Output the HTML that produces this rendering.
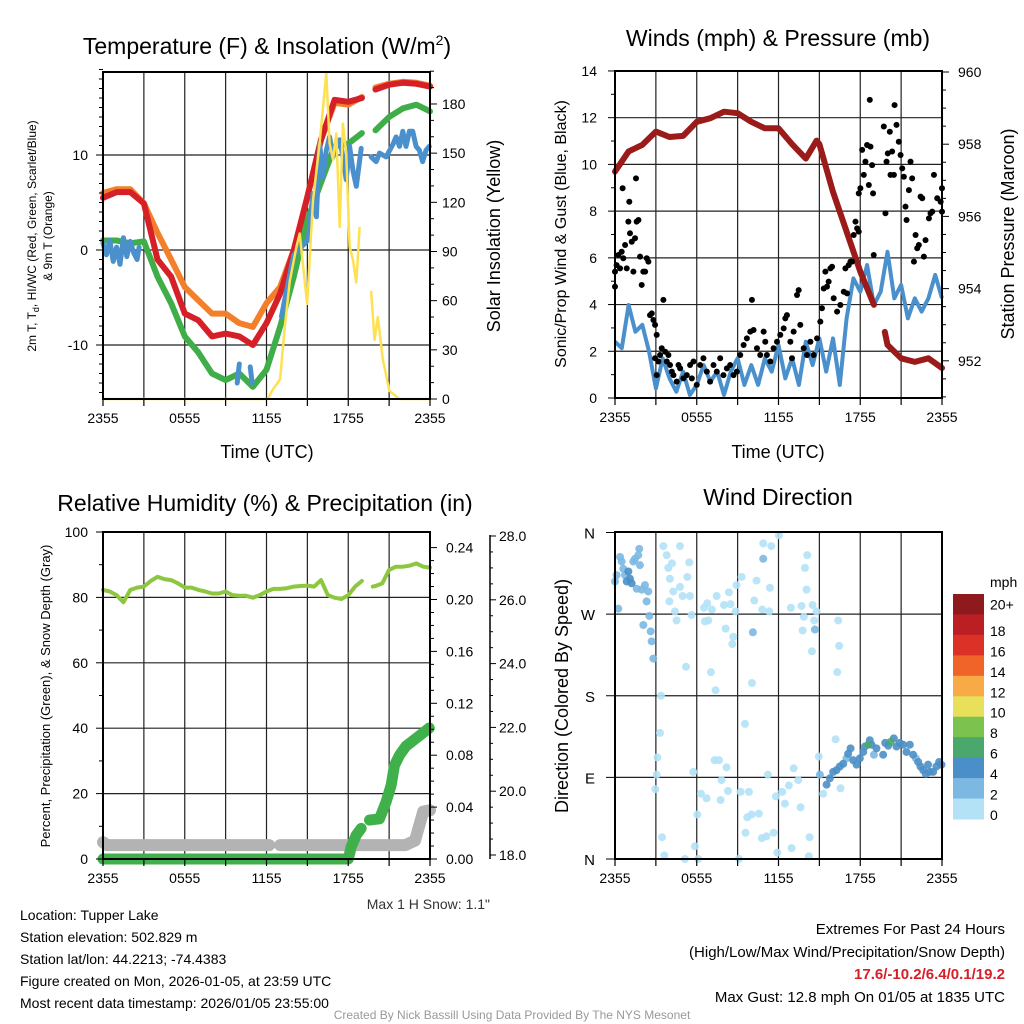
<!DOCTYPE html>
<html><head><meta charset="utf-8"><style>
html,body{margin:0;padding:0;background:#fff;}
svg{display:block;font-family:"Liberation Sans",sans-serif;}
</style></head><body>
<svg id="c" width="1024" height="1024" viewBox="0 0 1024 1024" xmlns="http://www.w3.org/2000/svg"></svg>
<script>
// ---------- Panel 1: temperature & insolation ----------
const tempHours=[0,1,2,3,4,5,6,7,8,9,10,11,12,13,14,15,16,17,18,19,19.5,20,21,22,23,24];
const tempRed=[5.5,6.1,6.1,4.9,-1.0,-2.8,-6.7,-7.4,-9.1,-8.8,-9.1,-10.0,-7.7,-4.6,0,5.6,11.6,15.8,15.6,16.0,null,16.9,17.4,17.6,17.5,17.2];
const tempOrange=[6.0,6.4,6.4,4.9,1.8,-1.0,-3.9,-5.3,-6.7,-6.7,-7.7,-8.1,-5.6,-3.9,0,5.6,11.6,15.5,15.3,16.1,null,17.1,17.5,17.7,17.6,17.3];
const tempGreen=[1.0,1.0,0.7,0.9,-2.8,-5.6,-9.1,-10.8,-13.0,-13.7,-13.0,-14.4,-12.6,-8.1,-2.8,3.2,7.1,10.9,11.2,12.3,null,12.6,14.0,14.9,15.3,14.6];
const wcHours=[0,0.25,0.5,0.75,1,1.25,1.5,1.75,2,2.25,2.5,2.65,2.7,9.85,10.0,10.05,10.8,10.95,11.0,13.1,13.3,14.0,15.05,15.41,15.66,15.9,16.15,16.39,16.63,16.88,17.12,17.37,17.61,17.85,18.1,18.34,18.59,18.95,19.3,19.68,20.05,20.29,20.78,21.27,21.51,21.76,22.0,22.24,22.49,22.73,22.98,23.22,23.46,23.71,23.95];
const wcVals=[0.7,-0.5,1.0,-1.2,0.3,-1.5,1.3,-0.7,0.9,-0.3,-1.0,0.3,null,-14.0,-12.0,null,-12.3,-14.0,null,-7.0,-5.5,-0.5,1.05,5.96,3.5,11.2,7.7,10.5,11.9,9.8,10.9,11.6,9.8,7.4,10.9,8.4,6.7,10.7,null,9.8,9.3,10.2,9.8,11.1,11.9,10.9,12.5,10.9,12.5,12.5,10.9,10.5,9.3,10.5,10.9];
const solarHours=[0,12.1,12.4,13.0,13.34,13.71,14.2,14.44,14.98,15.41,15.9,16.39,16.63,16.88,17.12,17.37,17.61,17.85,18.1,18.34,18.59,18.83,19.2,19.68,19.93,20.17,20.54,21.02,21.76,23.95,24];
const solarVals=[0,0,5,12,44,72,93,101,58,121,156,199,156,146,162,105,168,150,93,85,71,105,null,66,36,50,24,5,0,0,0];
const tempTicks=[-10,0,10];
const solarTicks=[0,30,60,90,120,150,180];
const timeLabels=["2355","0555","1155","1755","2355"];
// ---------- Panel 2: winds & pressure ----------
const presHours=[0,1,2,3,4,5,6,7,8,9,10,11,12,13,14,14.8,15,16,17,18,19,19.4,19.8,20,21,22,23,24];
const presVals=[957.24,957.8,957.98,958.35,958.2,958.23,958.62,958.72,958.9,958.86,958.62,958.44,958.44,958.0,957.6,958.1,958.0,956.68,955.58,954.47,953.55,null,952.8,952.44,952.07,951.97,952.07,951.8];
const sonicHours=[0,0.5,1,1.5,2,2.5,3,3.5,4,4.5,5,5.5,6,6.5,7,7.5,8,8.5,9,9.5,10,10.5,11,11.5,12,12.5,13,13.5,14,14.5,15,15.5,16,16.5,17,17.5,18,18.5,19,19.5,20,20.5,21,21.5,22,22.5,23,23.5,24];
const sonicVals=[2.41,2.13,3.98,2.84,3.13,1.98,0.41,1.70,0.84,0.27,1.13,0.13,0.56,1.41,0.70,1.13,0.13,1.13,1.70,0.56,1.41,0.56,1.70,1.13,2.27,0.84,1.70,0.56,2.41,1.41,2.55,1.13,2.55,0.56,3.41,5.12,4.55,5.69,3.98,4.55,6.26,4.27,4.84,3.41,4.27,3.70,4.27,5.27,4.27];
const gustHours=[0,0,0.12,0.25,0.37,0.49,0.61,0.56,0.74,0.86,0.98,1.05,1.10,1.23,1.35,1.47,1.54,1.59,1.72,1.84,1.96,2.08,2.21,2.33,2.45,2.57,2.70,2.82,2.94,3.06,3.55,2.94,3.06,3.19,3.31,3.43,3.68,3.80,3.92,4.04,4.17,4.29,4.53,4.66,4.78,5.02,5.27,5.51,5.64,5.76,6.00,6.25,6.49,6.74,6.98,7.23,7.47,7.72,7.96,8.21,8.45,8.70,8.94,9.19,9.44,9.68,9.93,10.05,10.17,10.42,10.66,10.91,11.03,11.15,11.40,11.64,11.89,12.13,12.38,12.50,12.62,12.87,12.99,13.11,13.36,13.48,13.60,13.85,14.09,14.34,14.58,14.83,15.07,15.19,15.32,15.44,15.56,15.68,15.81,15.93,16.05,16.30,16.54,16.79,16.91,17.03,17.15,17.28,17.40,17.52,17.65,17.77,17.89,17.89,18.01,18.14,18.26,18.38,18.50,18.63,18.75,18.87,18.94,18.99,18.70,19.73,19.85,19.93,20.02,20.17,20.22,20.34,20.47,20.52,20.66,20.83,20.96,21.08,21.20,21.32,21.40,21.57,21.69,21.81,21.94,22.06,22.18,22.30,22.43,22.55,22.67,22.79,23.04,23.16,23.28,23.41,23.65,23.90,24.0,24.0];
const gustVals=[4.77,5.41,5.69,6.12,5.55,6.26,5.98,8.98,6.55,5.55,7.55,8.40,7.05,6.69,5.41,6.84,9.40,7.55,7.62,6.05,4.84,5.41,5.41,5.98,5.84,3.55,3.62,3.34,3.13,2.70,4.20,1.70,0.98,1.56,1.84,2.13,1.98,1.56,1.84,1.41,1.13,0.98,0.70,1.41,1.27,0.84,0.98,1.41,0.84,1.56,0.56,1.41,1.70,1.13,0.70,1.41,1.13,1.70,0.98,1.27,1.41,0.98,1.13,1.84,2.27,2.55,2.84,4.20,2.91,2.13,1.84,2.84,2.41,1.84,1.56,2.13,2.41,2.70,2.98,3.41,3.55,2.41,1.70,2.84,4.41,4.62,3.13,2.13,1.84,2.41,1.84,2.55,3.27,3.84,4.69,5.41,4.77,4.98,5.55,5.62,4.27,3.70,3.98,4.55,5.55,4.48,5.69,5.84,5.84,6.98,7.55,7.26,7.12,8.76,8.98,10.62,9.55,10.12,10.83,9.12,10.76,9.97,8.76,6.12,12.76,11.62,7.91,10.12,10.47,11.40,9.55,10.55,9.55,12.54,11.69,10.97,10.40,9.83,9.47,8.19,7.62,8.90,10.12,9.40,5.84,6.98,6.41,6.55,8.62,8.55,6.05,6.76,7.69,7.91,7.98,9.55,8.55,8.40,8.98,7.98];
const windTicks=[0,2,4,6,8,10,12,14];
const presTicks=[952,954,956,958,960];
// ---------- Panel 3: RH, precip, snow ----------
const rhHours=[0,0.5,1,1.5,2,2.5,3,3.5,4,4.5,5,5.5,6,6.5,7,7.5,8,8.5,9,9.5,10,10.5,11,11.5,12,12.5,13,13.5,14,14.5,15,15.5,16,16.5,17,17.5,18,18.5,19,19.4,19.8,20,20.5,21,21.5,22,22.5,23,23.5,24];
const rhVals=[82.3,81.8,80.7,78.5,82.3,83,83.3,85,86.3,85.6,85.3,84.3,83,83,82.3,81.8,81.2,81.2,81.8,80.7,80.5,80.5,79.9,80.7,81.8,82.6,82.6,82.8,83.3,83.5,83.6,83.3,85.3,80.7,79.9,79.5,80.7,83.3,85,null,83.3,83.5,84.3,88.4,89.4,89.4,89.7,90.4,89.4,89.1];
const precipHours=[0,18.0,18.22,18.59,18.95,19.2,19.56,20.29,20.78,21.15,21.39,21.76,22.24,22.98,23.95];
const precipVals=[0,0,0.0095,0.0185,0.0236,null,0.030,0.031,0.044,0.057,0.072,0.080,0.087,0.093,0.101];
const snowHours=[0,0.3,12.2,12.6,13.0,22.2,22.9,23.5,24];
const snowVals=[18.4,18.31,18.31,null,18.31,18.31,18.45,19.36,19.4];
const rhTicks=[0,20,40,60,80,100];
const precipTicks=[0,0.04,0.08,0.12,0.16,0.20,0.24];
const snowTicks=[18,20,22,24,26,28];
// ---------- Panel 4: wind direction ----------
const dirHours=[3.37,3.30,3.11,3.06,2.96,3.45,3.62,3.55,3.79,3.91,4.18,4.03,4.28,3.99,4.40,4.52,4.77,4.96,4.77,5.31,5.45,5.50,5.62,5.21,5.75,6.04,5.87,6.31,6.72,6.11,5.13,6.53,6.60,6.85,6.77,7.11,7.46,7.04,7.38,7.31,7.63,7.82,7.75,8.19,8.29,8.12,8.36,8.48,8.00,8.68,8.61,8.85,8.92,9.29,9.10,9.22,9.54,9.83,9.71,10.02,9.58,10.05,10.22,10.39,10.56,10.78,11.12,11.22,10.88,11.47,11.37,10.81,11.32,11.64,11.81,11.91,12.03,12.27,12.47,12.76,12.96,13.11,12.91,13.69,13.86,14.11,13.94,14.06,14.50,14.45,13.77,14.62,14.79,14.28,14.23,13.62,13.45,14.96,15.28,16.38,16.45,16.31,16.19,16.55,
0,0.12,0.24,0.37,0.49,0.61,0.73,1.34,1.47,1.59,1.71,1.78,1.83,1.96,2.2,2.32,2.44,2.52,2.08,2.62,2.69,2.81,10.88,10.12,14.67,15.04,16.99,19.0,22.08,
0.86,0.98,1.10,1.22,15.53,15.77,16.01,16.26,16.5,16.75,17.11,17.29,17.48,17.73,17.97,18.22,18.34,18.7,18.83,19.19,19.68,19.83,20.05,20.46,20.66,20.9,21.15,21.39,21.64,21.88,22.25,22.42,22.62,22.81,22.98,23.1,23.35,23.59,23.79,23.96,18.58,20.22];
const dirVals=[180,139,112,93,77,24,4,345,335,321,326,309,295,284,273,263,300,290,345,311,327,290,269,212,96,49,14,72,67,0,0,277,262,263,282,275,290,206,186,109,109,87,65,101,75,254,294,281,280,245,237,273,302,311,0,74,149,74,46,49,29,194,285,307,50,23,25,93,348,345,299,275,273,29,69,7,357,74,61,81,12,100,277,279,267,335,321,297,280,229,252,263,273,24,3,57,87,113,72,263,235,206,132,78,
306,313,276,333,328,320,313,328,331,298,335,342,324,297,302,284,295,268,258,251,240,221,331,250,253,93,111,115,111,
306,317,309,304,82,89,96,98,102,105,116,122,109,104,111,118,124,131,126,122,115,128,125,133,124,128,126,118,126,115,107,102,98,94,104,96,96,102,107,104,126,129];
const dirSpeeds=[1,1,1,1,1,1,1,1,1,1,1,1,1,1,1,1,1,1,1,1,1,1,1,1,1,1,1,1,1,1,1,1,1,1,1,1,1,1,1,1,1,1,1,1,1,1,1,1,1,1,1,1,1,1,1,1,1,1,1,1,1,1,1,1,1,1,1,1,1,1,1,1,1,1,1,1,1,1,1,1,1,1,1,1,1,1,1,1,1,1,1,1,1,1,1,1,1,1,1,1,1,1,1,1,
3,3,3,3,3,3,3,3,3,3,3,3,3,3,3,3,3,3,3,3,3,3,3,3,3,3,3,3,3,
5,5,5,5,5,5,5,5,5,5,5,5,5,5,5,5,5,5,5,5,5,5,5,5,5,5,5,5,5,5,5,5,5,5,5,5,5,5,5,5,7,7];
const dirLabels=["N","W","S","E","N"];
const dirTicks=[360,270,180,90,0];
const cbColors=["#8e1a1e","#bb1e23","#dc3127","#f06329","#f7aa45","#e8e05a","#7cc24f","#4aa86c","#4a8fc7","#7cb8e2","#b3e2f7"];
const cbLabels=["20+","18","16","14","12","10","8","6","4","2","0"];

// ---------- helpers ----------
const NS="http://www.w3.org/2000/svg";
const svg=document.getElementById('c');
function mk(tag,attrs,parent){const e=document.createElementNS(NS,tag);for(const k in attrs)e.setAttribute(k,attrs[k]);(parent||svg).appendChild(e);return e;}
function txt(s,x,y,size,anchor,parent,extra){const e=mk('text',Object.assign({x:x,y:y,'font-size':size,'text-anchor':anchor||'middle',fill:'#000'},extra||{}),parent);e.textContent=s;return e;}
function pathD(hs,vs,fx,fy){let d='',pen=false;for(let i=0;i<hs.length;i++){if(vs[i]===null){pen=false;continue;}d+=(pen?'L':'M')+fx(hs[i]).toFixed(1)+' '+fy(vs[i]).toFixed(1);pen=true;}return d;}
function grid(x0,y0,x1,y1,vx,hy,g){for(const x of vx)mk('line',{x1:x,y1:y0,x2:x,y2:y1,stroke:'#222','stroke-width':1.2},g);for(const y of hy)mk('line',{x1:x0,y1:y,x2:x1,y2:y,stroke:'#222','stroke-width':1.2},g);}
function box(x0,y0,x1,y1,g){mk('rect',{x:x0,y:y0,width:x1-x0,height:y1-y0,fill:'none',stroke:'#000','stroke-width':2},g);}
function xAxis(x0,x1,y,g){for(let i=0;i<=8;i++){const x=x0+(x1-x0)*i/8;mk('line',{x1:x,y1:y,x2:x,y2:y+7,stroke:'#000','stroke-width':1.2},g);}
 timeLabels.forEach((s,i)=>{const t=txt(s,x0+(x1-x0)*i/4,y+24,14,'middle',g);});}

// scales
const x1=h=>103+h*327/24, yT=v=>250-v*9.5, yS=s=>399-s*1.639;
const x2=h=>615+h*327/24, yW=v=>398-v*23.36, yP=p=>72+(960-p)*36.1;
const yR=v=>859-v*3.27, yPr=p=>859-p*1297.5, ySn=s=>855-(s-18)*31.9;
const yD=d=>859-d*326.5/360;

// ===== Panel 1 =====
const p1=mk('g',{});


const vx1=[];for(let i=1;i<8;i++)vx1.push(103+327*i/8);
grid(103,72,430,399,vx1,tempTicks.map(yT),p1);
[['orange',tempOrange,'#f47f2b','temp-9m-line'],['green',tempGreen,'#3fae49','dewpoint-line'],['red',tempRed,'#d62027','temp-2m-line']].forEach(a=>{
 const p=mk('path',{d:pathD(tempHours,a[1],x1,yT),fill:'none',stroke:a[2],'stroke-width':6,'stroke-linejoin':'round','stroke-linecap':'round'},p1);
 
 });
const wcp=mk('path',{d:pathD(wcHours,wcVals,x1,yT),fill:'none',stroke:'#4a90cd','stroke-width':5,'stroke-linejoin':'round','stroke-linecap':'round'},p1);


const sop=mk('path',{d:pathD(solarHours,solarVals,x1,yS),fill:'none',stroke:'#fde153','stroke-width':2.5,'stroke-linejoin':'round'},p1);


box(103,72,430,399,p1);
xAxis(103,430,399,p1);
tempTicks.forEach(v=>{mk('line',{x1:96,y1:yT(v),x2:103,y2:yT(v),stroke:'#000'},p1);const t=txt(String(v),88,yT(v)+5,14,'end',p1);});
for(let v=-15;v<=19;v++){if(v%10)mk('line',{x1:99,y1:yT(v),x2:103,y2:yT(v),stroke:'#000'},p1);}
for(let s=0;s<=200;s+=10){const big=s%30===0;mk('line',{x1:430,y1:yS(s),x2:430+(big?7:4),y2:yS(s),stroke:'#000'},p1);}
solarTicks.forEach(s=>{const t=txt(String(s),442,yS(s)+5,14,'start',p1);});
const t1=mk('text',{x:267,y:54,'font-size':23,'text-anchor':'middle'},p1);


t1.innerHTML='Temperature (F) &amp; Insolation (W/m<tspan dy="-9" font-size="14">2</tspan><tspan dy="9">)</tspan>';
const xl1=txt('Time (UTC)',267,458,18,'middle',p1);
const yl1=mk('text',{transform:'translate(36,236) rotate(-90)','font-size':12,'text-anchor':'middle'},p1);

yl1.innerHTML='2m T, T<tspan dy="3" font-size="9">d</tspan><tspan dy="-3">, HI/WC (Red, Green, Scarlet/Blue)</tspan>';
const yl1b=txt('& 9m T (Orange)',0,0,12,'middle',p1,{transform:'translate(52,236) rotate(-90)'});
const yr1=txt('Solar Insolation (Yellow)',0,0,18,'middle',p1,{transform:'translate(500,236) rotate(-90)'});

// ===== Panel 2 =====
const p2=mk('g',{});


const vx2=[];for(let i=1;i<8;i++)vx2.push(615+327*i/8);
grid(615,71,942,398,vx2,windTicks.slice(1,7).map(yW),p2);
const snp=mk('path',{d:pathD(sonicHours,sonicVals,x2,yW),fill:'none',stroke:'#4a90cd','stroke-width':4,'stroke-linejoin':'round'},p2);


const prp=mk('path',{d:pathD(presHours,presVals,x2,yP),fill:'none',stroke:'#9b1b1b','stroke-width':6,'stroke-linejoin':'round','stroke-linecap':'round'},p2);


gustHours.forEach((h,i)=>{const c=mk('circle',{cx:x2(h),cy:yW(gustVals[i]),r:3,fill:'#000'},p2);});
box(615,71,942,398,p2);
xAxis(615,942,398,p2);
windTicks.forEach(v=>{mk('line',{x1:608,y1:yW(v),x2:615,y2:yW(v),stroke:'#000'},p2);const t=txt(String(v),597,yW(v)+5,14,'end',p2);});
for(let v=1;v<14;v+=2)mk('line',{x1:611,y1:yW(v),x2:615,y2:yW(v),stroke:'#000'},p2);
for(let p=951;p<=960;p+=0.5){const big=p%2===0;mk('line',{x1:942,y1:yP(p),x2:942+(big?7:4),y2:yP(p),stroke:'#000'},p2);}
presTicks.forEach(p=>{const t=txt(String(p),958,yP(p)+5,14,'start',p2);});
const t2=txt('Winds (mph) & Pressure (mb)',778,46,23,'middle',p2);
const xl2=txt('Time (UTC)',778,458,18,'middle',p2);
const yl2=txt('Sonic/Prop Wind & Gust (Blue, Black)',0,0,16,'middle',p2,{transform:'translate(566,234) rotate(-90)'});
const yr2=txt('Station Pressure (Maroon)',0,0,18,'middle',p2,{transform:'translate(1014,234) rotate(-90)'});

// ===== Panel 3 =====
const p3=mk('g',{});


grid(103,532,430,859,vx1,rhTicks.slice(1,5).map(yR),p3);
const rhp=mk('path',{d:pathD(rhHours,rhVals,x1,yR),fill:'none',stroke:'#8dc63f','stroke-width':4,'stroke-linejoin':'round','stroke-linecap':'round'},p3);


const sdp=mk('path',{d:pathD(snowHours,snowVals,x1,ySn),fill:'none',stroke:'#b3b3b3','stroke-width':12,'stroke-linejoin':'round','stroke-linecap':'round'},p3);


const pcp=mk('path',{d:pathD(precipHours,precipVals,x1,yPr),fill:'none',stroke:'#3fb04a','stroke-width':11,'stroke-linejoin':'round','stroke-linecap':'round'},p3);


box(103,532,430,859,p3);
xAxis(103,430,859,p3);
rhTicks.forEach(v=>{mk('line',{x1:96,y1:yR(v),x2:103,y2:yR(v),stroke:'#000'},p3);const t=txt(String(v),88,yR(v)+5,14,'end',p3);});
for(let v=10;v<100;v+=20)mk('line',{x1:99,y1:yR(v),x2:103,y2:yR(v),stroke:'#000'},p3);
for(let p=0;p<=0.25;p+=0.01){const big=Math.round(p*100)%4===0;mk('line',{x1:430,y1:yPr(p),x2:430+(big?7:4),y2:yPr(p),stroke:'#000'},p3);}
precipTicks.forEach(p=>{const t=txt(p.toFixed(2),446,yPr(p)+5,14,'start',p3);});
mk('line',{x1:490,y1:535,x2:490,y2:859,stroke:'#000','stroke-width':1.5},p3);
for(let s=18;s<=28;s+=0.5){const big=s%2===0;mk('line',{x1:490,y1:ySn(s),x2:490+(big?6:3),y2:ySn(s),stroke:'#000'},p3);}
snowTicks.forEach(s=>{const t=txt(s.toFixed(1),499,ySn(s)+5,14,'start',p3);});
const t3=txt('Relative Humidity (%) & Precipitation (in)',265,511,23,'middle',p3);
const yl3=txt('Percent, Precipitation (Green), & Snow Depth (Gray)',0,0,13,'middle',p3,{transform:'translate(50,696) rotate(-90)'});
const ms=txt('Max 1 H Snow: 1.1"',490,909,14,'end',p3,{fill:'#333'});

// ===== Panel 4 =====
const p4=mk('g',{});


grid(615,532,942,859,vx2,[270,180,90].map(yD),p4);
dirHours.forEach((h,i)=>{const s=dirSpeeds[i];const col=s<2?'#b3e2f7':s<4?'#7cb8e2':s<6?'#4a8fc7':'#4aa86c';
 const c=mk('circle',{cx:x2(h),cy:yD(dirVals[i]),r:4,fill:col,'fill-opacity':0.9},p4);
 
 });
box(615,532,942,859,p4);
xAxis(615,942,859,p4);
dirTicks.forEach((d,i)=>{mk('line',{x1:606,y1:yD(d),x2:615,y2:yD(d),stroke:'#000'},p4);const t=txt(dirLabels[i],595,yD(d)+6,15,'end',p4);});
const t4=txt('Wind Direction',778,505,23,'middle',p4);
const yl4=txt('Direction (Colored By Speed)',0,0,18,'middle',p4,{transform:'translate(568,696) rotate(-90)'});
// colorbar
const cb=mk('g',{});


const cbTop=594,cbH=225/11;
cbColors.forEach((c,i)=>{const r=mk('rect',{x:953,y:cbTop+i*cbH,width:31,height:cbH+0.5,fill:c},cb);});
const cbt=txt('mph',990,587,14,'start',cb);
cbLabels.forEach((s,i)=>{const y=cbTop+(i+1)*cbH;const t=txt(s,990,y-4+(i===0?-6:0)+5,14,'start',cb);});

// ===== footer =====
const ft=mk('g',{});


["Location: Tupper Lake","Station elevation: 502.829 m","Station lat/lon: 44.2213; -74.4383","Figure created on Mon, 2026-01-05, at 23:59 UTC","Most recent data timestamp: 2026/01/05 23:55:00"].forEach((s,i)=>{const t=txt(s,20,920+i*22,14,'start',ft);});
const ex=mk('g',{});


const e1=txt('Extremes For Past 24 Hours',1005,934,15,'end',ex);
const e2=txt('(High/Low/Max Wind/Precipitation/Snow Depth)',1005,957,15,'end',ex);
const e3=txt('17.6/-10.2/6.4/0.1/19.2',1005,979,15,'end',ex,{fill:'#d62027','font-weight':'bold'});
const e4=txt('Max Gust: 12.8 mph On 01/05 at 1835 UTC',1005,1002,15,'end',ex);
const cr=txt('Created By Nick Bassill Using Data Provided By The NYS Mesonet',512,1019,12,'middle',svg,{fill:'#999'});
</script>
</body></html>
